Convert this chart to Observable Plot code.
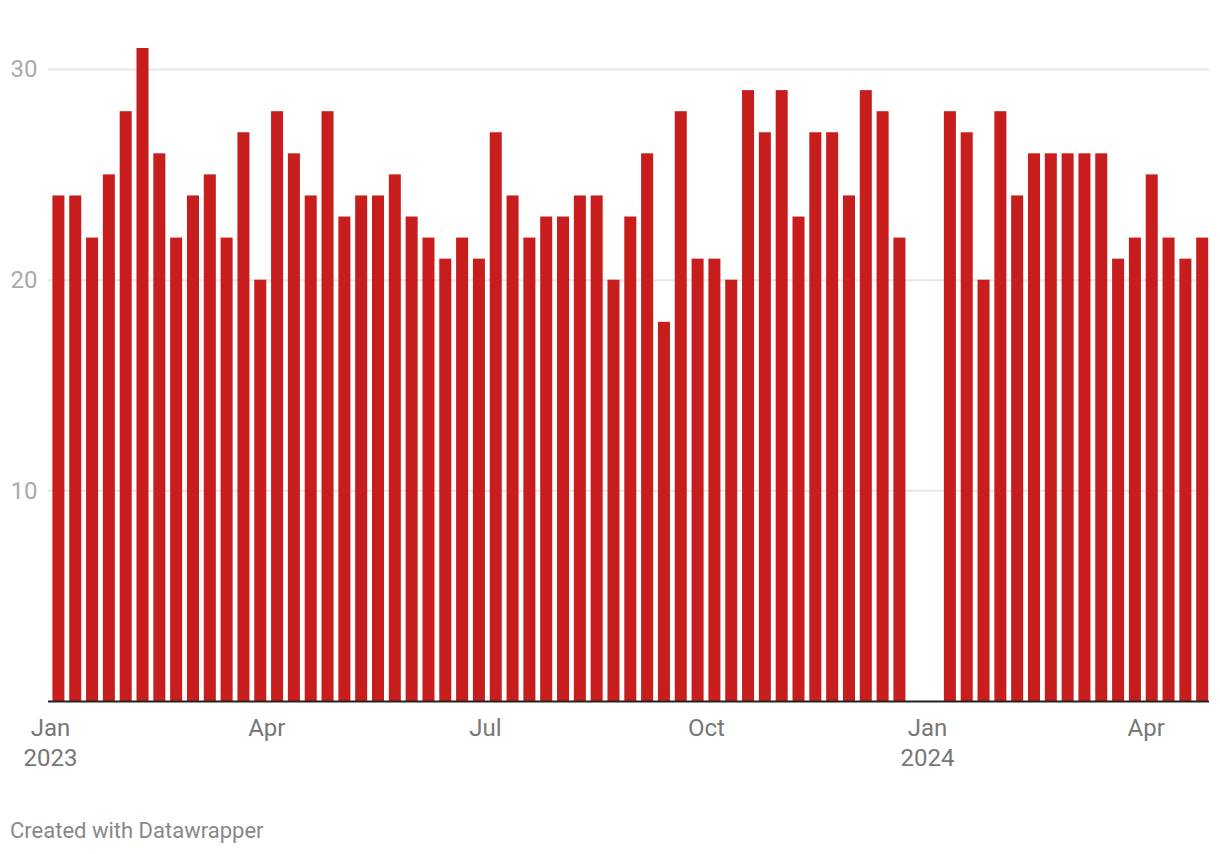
<!DOCTYPE html>
<html>
<head>
<meta charset="utf-8">
<script src="https://cdn.jsdelivr.net/npm/d3@7"></script>
<script src="https://cdn.jsdelivr.net/npm/@observablehq/plot@0.6"></script>
<style>
  html, body { margin: 0; padding: 0; background: #fff; }
  body { width: 1220px; height: 854px; position: relative; font-family: Roboto, "Noto Sans", sans-serif; }
  #chart svg { display: block; }
  #footer { position: absolute; left: 10px; top: 818px; font-size: 22px; line-height: 26px; color: #888; font-family: Roboto, sans-serif; }
</style>
</head>
<body>
<div id="chart"></div>
<div id="footer">Created with Datawrapper</div>
<script>
const weeks = [
  "2023-01-01","2023-01-08","2023-01-15","2023-01-22","2023-01-29",
  "2023-02-05","2023-02-12","2023-02-19","2023-02-26",
  "2023-03-05","2023-03-12","2023-03-19","2023-03-26",
  "2023-04-02","2023-04-09","2023-04-16","2023-04-23","2023-04-30",
  "2023-05-07","2023-05-14","2023-05-21","2023-05-28",
  "2023-06-04","2023-06-11","2023-06-18","2023-06-25",
  "2023-07-02","2023-07-09","2023-07-16","2023-07-23","2023-07-30",
  "2023-08-06","2023-08-13","2023-08-20","2023-08-27",
  "2023-09-03","2023-09-10","2023-09-17","2023-09-24",
  "2023-10-01","2023-10-08","2023-10-15","2023-10-22","2023-10-29",
  "2023-11-05","2023-11-12","2023-11-19","2023-11-26",
  "2023-12-03","2023-12-10","2023-12-17",
  "2024-01-07","2024-01-14","2024-01-21","2024-01-28",
  "2024-02-04","2024-02-11","2024-02-18","2024-02-25",
  "2024-03-03","2024-03-10","2024-03-17","2024-03-24","2024-03-31",
  "2024-04-07","2024-04-14","2024-04-21"
];
const values = [
  24,24,22,25,28,31,26,22,24,25,
  22,27,20,28,26,24,28,23,24,24,
  25,23,22,21,22,21,27,24,22,23,
  23,24,24,20,23,26,18,28,21,21,
  20,29,27,29,23,27,27,24,29,28,22,
  28,27,20,28,24,26,26,26,26,26,21,22,25,22,21,22
];
const yTicks = [10, 20, 30];
const xTicks = ["2023-01-01","2023-04-01","2023-07-01","2023-10-01","2024-01-01","2024-04-01"];
const monthNames = ["Jan","Feb","Mar","Apr","May","Jun","Jul","Aug","Sep","Oct","Nov","Dec"];

const data = weeks.map((w, i) => ({date: new Date(w + "T00:00:00Z"), value: values[i]}));

const chart = Plot.plot({
  width: 1220,
  height: 800,
  marginLeft: 48,
  marginRight: 11,
  marginTop: 48,
  marginBottom: 99,
  style: {fontFamily: "Roboto, sans-serif", background: "#fff", overflow: "visible"},
  x: {type: "utc", domain: [new Date("2022-12-31T04:00:00Z"), new Date("2024-04-27T08:00:00Z")]},
  y: {domain: [0, 31]},
  marks: [
    Plot.gridY(yTicks, {stroke: "#e6e6e6", strokeOpacity: 1, strokeWidth: 2}),
    Plot.rectY(data, {x: "date", y: "value", interval: d3.utcWeek, insetLeft: 2.4, insetRight: 2.4, fill: "#c71e1d"}),
    Plot.ruleY([0], {stroke: "#222", strokeWidth: 2}),
    Plot.axisY(yTicks, {tickSize: 0, tickPadding: 11, fontSize: 24, fill: "#aaa", label: null}),
    Plot.axisX(xTicks.map(s => new Date(s + "T00:00:00Z")), {
      tickSize: 0, tickPadding: 14, fontSize: 24, fill: "#777", label: null, lineHeight: 1.22,
      tickFormat: d => monthNames[d.getUTCMonth()] + (d.getUTCMonth() === 0 ? "\n" + d.getUTCFullYear() : "")
    })
  ]
});
document.getElementById("chart").appendChild(chart);
</script>
</body>
</html>
